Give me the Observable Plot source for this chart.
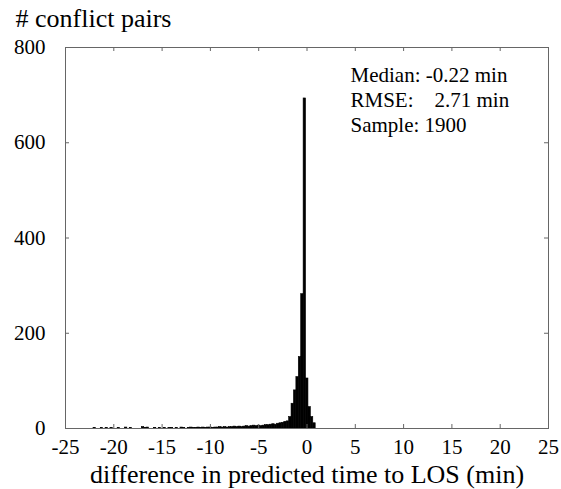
<!DOCTYPE html>
<html>
<head>
<meta charset="utf-8">
<script src="https://cdn.jsdelivr.net/npm/d3@7"></script>
<script src="https://cdn.jsdelivr.net/npm/@observablehq/plot@0.6"></script>
<style>
  html, body { margin: 0; padding: 0; background: #fff; }
  svg text, svg g[aria-label] { font-family: "Liberation Serif", "Times New Roman", serif !important; }
</style>
</head>
<body>
<div id="chart"></div>
<script>
// Histogram bins (start of each 0.25-min bin) and counts
const binStart = [
  0.65, 0.4, 0.15, -0.1, -0.35, -0.6, -0.85, -1.1, -1.35, -1.6, -1.85,
  -2.1, -2.35, -2.6, -2.85, -3.1, -3.35, -3.6, -3.85, -4.1, -4.35, -4.6, -4.85,
  -5.1, -5.35, -5.6, -5.85, -6.1, -6.35, -6.6, -6.85, -7.1, -7.35, -7.6, -7.85,
  -8.1, -8.35, -8.6, -8.85, -9.1, -9.35, -9.6, -9.85,
  -10.1, -10.35, -10.6, -10.85, -11.1, -11.35, -11.6, -11.85, -12.1, -12.35, -12.85,
  -13.1, -13.6, -14.1, -14.35, -14.85, -15.35, -15.85, -16.6, -16.85, -17.1,
  -18.35, -18.85, -19.6, -20.35, -20.85, -21.35, -22.1
];
const counts = [
  11, 24, 45, 105, 693, 282, 150, 108, 80, 52, 24,
  15, 14, 12, 11, 10, 8, 9, 8, 7, 7, 6, 5,
  6, 5, 6, 5, 4, 5, 4, 3, 4, 3, 4, 3,
  3, 2, 3, 2, 3, 2, 2, 1,
  2, 2, 1, 2, 1, 2, 1, 1, 2, 1, 1,
  2, 1, 1, 1, 1, 1, 1, 2, 1, 3,
  1, 2, 1, 1, 1, 1, 1
];
const binWidth = 0.25;

const xTicks = [-25, -20, -15, -10, -5, 0, 5, 10, 15, 20, 25];
const yTicks = [0, 200, 400, 600, 800];
const xTitle = "difference in predicted time to LOS (min)";
const yTitle = "# conflict pairs";
const stats = ["Median: -0.22 min", "RMSE:\u00a0\u00a0\u00a0 2.71 min", "Sample: 1900"];

const bins = binStart.map((s, i) => ({x1: s, x2: s + binWidth, y: counts[i]}));

const W = 561, H = 489;
const mT = 47, mB = 61, mL = 65, mR = 13;
const innerH = H - mT - mB, innerW = W - mL - mR;
const tickLen = 4;
const axisColor = "#666";
const serif = "Liberation Serif";

const chart = Plot.plot({
  width: W,
  height: H,
  marginTop: mT,
  marginBottom: mB,
  marginLeft: mL,
  marginRight: mR,
  style: {fontFamily: serif, fontSize: "21px", background: "#fff", color: "#000"},
  x: {domain: [-25, 25]},
  y: {domain: [0, 800]},
  marks: [
    Plot.rectY(bins, {x1: "x1", x2: "x2", y: "y", fill: "black", stroke: "black", strokeWidth: 0.6, inset: 0}),
    Plot.frame({stroke: axisColor, strokeWidth: 1}),
    // inward ticks on all four sides
    Plot.tickX(xTicks, {x: d => d, stroke: axisColor, insetTop: innerH - tickLen}),
    Plot.tickX(xTicks, {x: d => d, stroke: axisColor, insetBottom: innerH - tickLen}),
    Plot.tickY(yTicks, {y: d => d, stroke: axisColor, insetRight: innerW - tickLen}),
    Plot.tickY(yTicks, {y: d => d, stroke: axisColor, insetLeft: innerW - tickLen}),
    Plot.axisX({ticks: xTicks, tickSize: 0, tickPadding: 11, label: null, fontSize: 21, fontFamily: serif, tickFormat: d => String(d)}),
    Plot.axisY({ticks: yTicks, tickSize: 0, tickPadding: 20, label: null, fontSize: 21, fontFamily: serif, tickFormat: d => String(d)}),
    Plot.text([xTitle], {text: d => d, frameAnchor: "bottom", lineAnchor: "bottom", dy: 54, fontSize: 26, fontFamily: serif, fill: "black"}),
    Plot.text([yTitle], {text: d => d, frameAnchor: "top-left", textAnchor: "start", lineAnchor: "bottom", dx: -50, dy: -21, fontSize: 26, fontFamily: serif, fill: "black"}),
    Plot.text([stats.join("\n")], {text: d => d, frameAnchor: "top-left", textAnchor: "start", lineAnchor: "top", dx: 285, dy: 17, fontSize: 21, fontFamily: serif, lineHeight: 25 / 21, fill: "black"})
  ]
});
document.getElementById("chart").appendChild(chart);
</script>
</body>
</html>
